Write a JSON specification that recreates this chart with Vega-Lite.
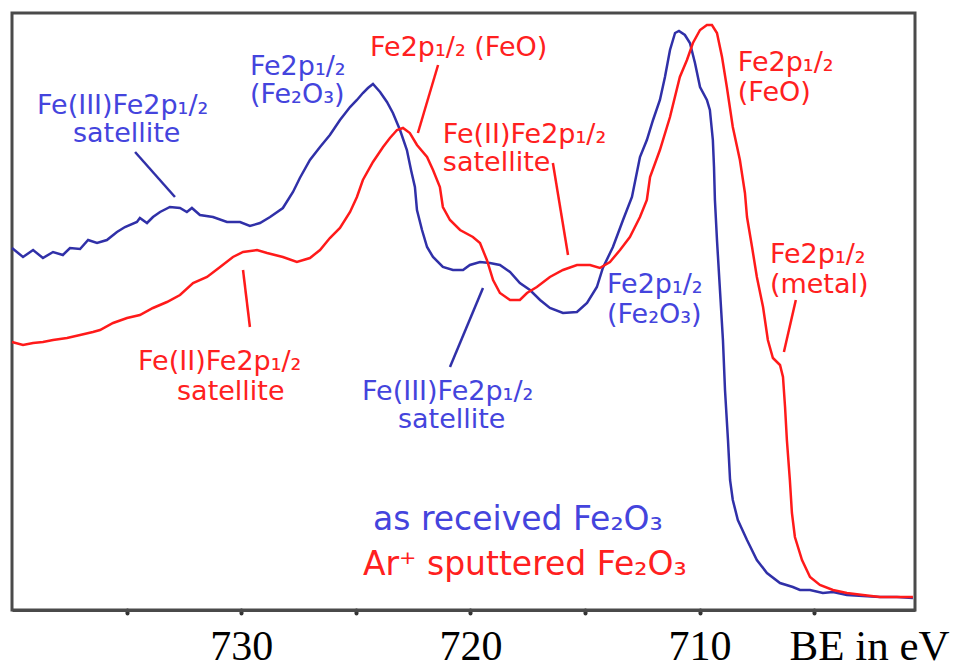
{
  "$schema": "https://vega.github.io/schema/vega-lite/v6.json",
  "width": 903,
  "height": 597,
  "autosize": {"type": "none"},
  "padding": {"left": 12, "top": 13, "right": 55, "bottom": 60},
  "background": "white",
  "config": {
    "view": {"stroke": "#4a4a4a", "strokeWidth": 3},
    "text": {"font": "DejaVu Sans"}
  },
  "resolve": {"scale": {"color": "independent"}},
  "datasets": {
    "spectra": [
      {"sample": "as received", "be": 740.00, "intensity": 362},
      {"sample": "as received", "be": 739.52, "intensity": 353},
      {"sample": "as received", "be": 739.08, "intensity": 360},
      {"sample": "as received", "be": 738.65, "intensity": 352},
      {"sample": "as received", "be": 738.21, "intensity": 358},
      {"sample": "as received", "be": 737.78, "intensity": 355},
      {"sample": "as received", "be": 737.47, "intensity": 362},
      {"sample": "as received", "be": 737.03, "intensity": 361},
      {"sample": "as received", "be": 736.68, "intensity": 370},
      {"sample": "as received", "be": 736.29, "intensity": 367},
      {"sample": "as received", "be": 735.86, "intensity": 370},
      {"sample": "as received", "be": 735.42, "intensity": 378},
      {"sample": "as received", "be": 735.07, "intensity": 383},
      {"sample": "as received", "be": 734.55, "intensity": 388},
      {"sample": "as received", "be": 734.42, "intensity": 392},
      {"sample": "as received", "be": 734.11, "intensity": 387},
      {"sample": "as received", "be": 733.85, "intensity": 393},
      {"sample": "as received", "be": 733.54, "intensity": 398},
      {"sample": "as received", "be": 733.11, "intensity": 403},
      {"sample": "as received", "be": 732.67, "intensity": 402},
      {"sample": "as received", "be": 732.37, "intensity": 398},
      {"sample": "as received", "be": 732.15, "intensity": 402},
      {"sample": "as received", "be": 731.80, "intensity": 395},
      {"sample": "as received", "be": 731.23, "intensity": 393},
      {"sample": "as received", "be": 730.62, "intensity": 388},
      {"sample": "as received", "be": 730.05, "intensity": 388},
      {"sample": "as received", "be": 729.62, "intensity": 384},
      {"sample": "as received", "be": 729.18, "intensity": 387},
      {"sample": "as received", "be": 728.74, "intensity": 393},
      {"sample": "as received", "be": 728.18, "intensity": 402},
      {"sample": "as received", "be": 727.74, "intensity": 418},
      {"sample": "as received", "be": 727.44, "intensity": 432},
      {"sample": "as received", "be": 727.00, "intensity": 450},
      {"sample": "as received", "be": 726.56, "intensity": 463},
      {"sample": "as received", "be": 726.13, "intensity": 475},
      {"sample": "as received", "be": 725.69, "intensity": 490},
      {"sample": "as received", "be": 725.25, "intensity": 503},
      {"sample": "as received", "be": 724.95, "intensity": 510},
      {"sample": "as received", "be": 724.69, "intensity": 517},
      {"sample": "as received", "be": 724.47, "intensity": 522},
      {"sample": "as received", "be": 724.25, "intensity": 526},
      {"sample": "as received", "be": 723.94, "intensity": 518},
      {"sample": "as received", "be": 723.64, "intensity": 508},
      {"sample": "as received", "be": 723.38, "intensity": 497},
      {"sample": "as received", "be": 723.07, "intensity": 480},
      {"sample": "as received", "be": 722.77, "intensity": 460},
      {"sample": "as received", "be": 722.59, "intensity": 440},
      {"sample": "as received", "be": 722.42, "intensity": 423},
      {"sample": "as received", "be": 722.33, "intensity": 400},
      {"sample": "as received", "be": 722.11, "intensity": 380},
      {"sample": "as received", "be": 721.89, "intensity": 363},
      {"sample": "as received", "be": 721.63, "intensity": 353},
      {"sample": "as received", "be": 721.20, "intensity": 343},
      {"sample": "as received", "be": 720.76, "intensity": 340},
      {"sample": "as received", "be": 720.32, "intensity": 340},
      {"sample": "as received", "be": 720.02, "intensity": 345},
      {"sample": "as received", "be": 719.58, "intensity": 348},
      {"sample": "as received", "be": 719.15, "intensity": 347},
      {"sample": "as received", "be": 718.71, "intensity": 345},
      {"sample": "as received", "be": 718.27, "intensity": 338},
      {"sample": "as received", "be": 717.84, "intensity": 327},
      {"sample": "as received", "be": 717.40, "intensity": 320},
      {"sample": "as received", "be": 716.96, "intensity": 310},
      {"sample": "as received", "be": 716.53, "intensity": 302},
      {"sample": "as received", "be": 715.96, "intensity": 297},
      {"sample": "as received", "be": 715.35, "intensity": 298},
      {"sample": "as received", "be": 714.91, "intensity": 307},
      {"sample": "as received", "be": 714.48, "intensity": 323},
      {"sample": "as received", "be": 714.22, "intensity": 342},
      {"sample": "as received", "be": 713.78, "intensity": 363},
      {"sample": "as received", "be": 713.34, "intensity": 390},
      {"sample": "as received", "be": 712.95, "intensity": 413},
      {"sample": "as received", "be": 712.60, "intensity": 453},
      {"sample": "as received", "be": 712.30, "intensity": 470},
      {"sample": "as received", "be": 712.03, "intensity": 490},
      {"sample": "as received", "be": 711.73, "intensity": 510},
      {"sample": "as received", "be": 711.51, "intensity": 533},
      {"sample": "as received", "be": 711.29, "intensity": 560},
      {"sample": "as received", "be": 711.07, "intensity": 577},
      {"sample": "as received", "be": 710.90, "intensity": 579},
      {"sample": "as received", "be": 710.64, "intensity": 575},
      {"sample": "as received", "be": 710.42, "intensity": 567},
      {"sample": "as received", "be": 710.20, "intensity": 547},
      {"sample": "as received", "be": 709.98, "intensity": 523},
      {"sample": "as received", "be": 709.68, "intensity": 510},
      {"sample": "as received", "be": 709.55, "intensity": 500},
      {"sample": "as received", "be": 709.42, "intensity": 470},
      {"sample": "as received", "be": 709.37, "intensity": 443},
      {"sample": "as received", "be": 709.33, "intensity": 410},
      {"sample": "as received", "be": 709.24, "intensity": 370},
      {"sample": "as received", "be": 709.11, "intensity": 320},
      {"sample": "as received", "be": 708.98, "intensity": 270},
      {"sample": "as received", "be": 708.89, "intensity": 220},
      {"sample": "as received", "be": 708.76, "intensity": 170},
      {"sample": "as received", "be": 708.67, "intensity": 130},
      {"sample": "as received", "be": 708.55, "intensity": 110},
      {"sample": "as received", "be": 708.33, "intensity": 90},
      {"sample": "as received", "be": 707.93, "intensity": 70},
      {"sample": "as received", "be": 707.50, "intensity": 50},
      {"sample": "as received", "be": 707.06, "intensity": 37},
      {"sample": "as received", "be": 706.49, "intensity": 27},
      {"sample": "as received", "be": 705.93, "intensity": 23},
      {"sample": "as received", "be": 705.62, "intensity": 20},
      {"sample": "as received", "be": 705.18, "intensity": 20},
      {"sample": "as received", "be": 704.62, "intensity": 17},
      {"sample": "as received", "be": 704.18, "intensity": 18},
      {"sample": "as received", "be": 703.57, "intensity": 15},
      {"sample": "as received", "be": 702.87, "intensity": 14},
      {"sample": "as received", "be": 702.13, "intensity": 13},
      {"sample": "as received", "be": 701.39, "intensity": 13},
      {"sample": "as received", "be": 700.69, "intensity": 12},
      {"sample": "sputtered", "be": 740.00, "intensity": 268},
      {"sample": "sputtered", "be": 739.52, "intensity": 265},
      {"sample": "sputtered", "be": 739.08, "intensity": 267},
      {"sample": "sputtered", "be": 738.65, "intensity": 268},
      {"sample": "sputtered", "be": 738.21, "intensity": 270},
      {"sample": "sputtered", "be": 737.60, "intensity": 272},
      {"sample": "sputtered", "be": 737.03, "intensity": 275},
      {"sample": "sputtered", "be": 736.47, "intensity": 278},
      {"sample": "sputtered", "be": 736.16, "intensity": 280},
      {"sample": "sputtered", "be": 735.59, "intensity": 287},
      {"sample": "sputtered", "be": 734.98, "intensity": 292},
      {"sample": "sputtered", "be": 734.42, "intensity": 295},
      {"sample": "sputtered", "be": 733.85, "intensity": 302},
      {"sample": "sputtered", "be": 733.24, "intensity": 308},
      {"sample": "sputtered", "be": 732.67, "intensity": 315},
      {"sample": "sputtered", "be": 732.10, "intensity": 327},
      {"sample": "sputtered", "be": 731.49, "intensity": 333},
      {"sample": "sputtered", "be": 730.92, "intensity": 343},
      {"sample": "sputtered", "be": 730.36, "intensity": 353},
      {"sample": "sputtered", "be": 729.92, "intensity": 358},
      {"sample": "sputtered", "be": 729.31, "intensity": 360},
      {"sample": "sputtered", "be": 728.87, "intensity": 357},
      {"sample": "sputtered", "be": 728.18, "intensity": 353},
      {"sample": "sputtered", "be": 727.57, "intensity": 348},
      {"sample": "sputtered", "be": 727.00, "intensity": 352},
      {"sample": "sputtered", "be": 726.56, "intensity": 360},
      {"sample": "sputtered", "be": 726.13, "intensity": 372},
      {"sample": "sputtered", "be": 725.69, "intensity": 382},
      {"sample": "sputtered", "be": 725.25, "intensity": 398},
      {"sample": "sputtered", "be": 724.95, "intensity": 413},
      {"sample": "sputtered", "be": 724.69, "intensity": 430},
      {"sample": "sputtered", "be": 724.25, "intensity": 448},
      {"sample": "sputtered", "be": 723.81, "intensity": 463},
      {"sample": "sputtered", "be": 723.51, "intensity": 472},
      {"sample": "sputtered", "be": 723.20, "intensity": 480},
      {"sample": "sputtered", "be": 722.94, "intensity": 482},
      {"sample": "sputtered", "be": 722.64, "intensity": 477},
      {"sample": "sputtered", "be": 722.33, "intensity": 465},
      {"sample": "sputtered", "be": 721.89, "intensity": 453},
      {"sample": "sputtered", "be": 721.63, "intensity": 440},
      {"sample": "sputtered", "be": 721.33, "intensity": 423},
      {"sample": "sputtered", "be": 721.20, "intensity": 403},
      {"sample": "sputtered", "be": 720.89, "intensity": 390},
      {"sample": "sputtered", "be": 720.45, "intensity": 380},
      {"sample": "sputtered", "be": 719.89, "intensity": 373},
      {"sample": "sputtered", "be": 719.58, "intensity": 367},
      {"sample": "sputtered", "be": 719.28, "intensity": 350},
      {"sample": "sputtered", "be": 719.01, "intensity": 330},
      {"sample": "sputtered", "be": 718.71, "intensity": 317},
      {"sample": "sputtered", "be": 718.27, "intensity": 310},
      {"sample": "sputtered", "be": 717.84, "intensity": 310},
      {"sample": "sputtered", "be": 717.53, "intensity": 317},
      {"sample": "sputtered", "be": 717.10, "intensity": 323},
      {"sample": "sputtered", "be": 716.53, "intensity": 333},
      {"sample": "sputtered", "be": 715.96, "intensity": 340},
      {"sample": "sputtered", "be": 715.35, "intensity": 345},
      {"sample": "sputtered", "be": 714.78, "intensity": 345},
      {"sample": "sputtered", "be": 714.35, "intensity": 342},
      {"sample": "sputtered", "be": 713.91, "intensity": 348},
      {"sample": "sputtered", "be": 713.47, "intensity": 360},
      {"sample": "sputtered", "be": 713.04, "intensity": 373},
      {"sample": "sputtered", "be": 712.60, "intensity": 393},
      {"sample": "sputtered", "be": 712.30, "intensity": 410},
      {"sample": "sputtered", "be": 712.16, "intensity": 433},
      {"sample": "sputtered", "be": 711.73, "intensity": 460},
      {"sample": "sputtered", "be": 711.29, "intensity": 493},
      {"sample": "sputtered", "be": 710.86, "intensity": 533},
      {"sample": "sputtered", "be": 710.55, "intensity": 550},
      {"sample": "sputtered", "be": 710.29, "intensity": 567},
      {"sample": "sputtered", "be": 709.98, "intensity": 580},
      {"sample": "sputtered", "be": 709.68, "intensity": 585},
      {"sample": "sputtered", "be": 709.46, "intensity": 585},
      {"sample": "sputtered", "be": 709.24, "intensity": 577},
      {"sample": "sputtered", "be": 709.02, "intensity": 553},
      {"sample": "sputtered", "be": 708.81, "intensity": 523},
      {"sample": "sputtered", "be": 708.55, "intensity": 483},
      {"sample": "sputtered", "be": 708.24, "intensity": 450},
      {"sample": "sputtered", "be": 708.02, "intensity": 417},
      {"sample": "sputtered", "be": 707.93, "intensity": 393},
      {"sample": "sputtered", "be": 707.71, "intensity": 363},
      {"sample": "sputtered", "be": 707.50, "intensity": 333},
      {"sample": "sputtered", "be": 707.23, "intensity": 303},
      {"sample": "sputtered", "be": 707.02, "intensity": 270},
      {"sample": "sputtered", "be": 706.80, "intensity": 252},
      {"sample": "sputtered", "be": 706.49, "intensity": 245},
      {"sample": "sputtered", "be": 706.36, "intensity": 233},
      {"sample": "sputtered", "be": 706.27, "intensity": 203},
      {"sample": "sputtered", "be": 706.19, "intensity": 170},
      {"sample": "sputtered", "be": 706.06, "intensity": 130},
      {"sample": "sputtered", "be": 705.97, "intensity": 97},
      {"sample": "sputtered", "be": 705.84, "intensity": 73},
      {"sample": "sputtered", "be": 705.53, "intensity": 50},
      {"sample": "sputtered", "be": 705.18, "intensity": 33},
      {"sample": "sputtered", "be": 704.75, "intensity": 25},
      {"sample": "sputtered", "be": 704.18, "intensity": 20},
      {"sample": "sputtered", "be": 703.57, "intensity": 17},
      {"sample": "sputtered", "be": 702.87, "intensity": 15},
      {"sample": "sputtered", "be": 702.13, "intensity": 13},
      {"sample": "sputtered", "be": 701.39, "intensity": 13},
      {"sample": "sputtered", "be": 700.69, "intensity": 13}
    ],
    "leaders": [
      {"sample": "as received", "be1": 734.63, "i1": 458, "be2": 732.89, "i2": 413},
      {"sample": "as received", "be1": 719.45, "i1": 322, "be2": 720.89, "i2": 243},
      {"sample": "sputtered", "be1": 721.41, "i1": 545, "be2": 722.29, "i2": 477},
      {"sample": "sputtered", "be1": 716.40, "i1": 447, "be2": 715.74, "i2": 355},
      {"sample": "sputtered", "be1": 729.92, "i1": 340, "be2": 729.62, "i2": 283},
      {"sample": "sputtered", "be1": 705.80, "i1": 310, "be2": 706.32, "i2": 258}
    ],
    "labels": [
      {"sample": "as received", "be": 738.91, "intensity": 504, "text": "Fe(III)Fe2p₁/₂"},
      {"sample": "as received", "be": 737.34, "intensity": 476, "text": "satellite"},
      {"sample": "as received", "be": 729.62, "intensity": 543, "text": "Fe2p₁/₂"},
      {"sample": "as received", "be": 729.62, "intensity": 515, "text": "(Fe₂O₃)"},
      {"sample": "as received", "be": 724.73, "intensity": 218, "text": "Fe(III)Fe2p₁/₂"},
      {"sample": "as received", "be": 723.16, "intensity": 190, "text": "satellite"},
      {"sample": "as received", "be": 714.04, "intensity": 325, "text": "Fe2p₁/₂"},
      {"sample": "as received", "be": 714.04, "intensity": 295, "text": "(Fe₂O₃)"},
      {"sample": "sputtered", "be": 724.38, "intensity": 562, "text": "Fe2p₁/₂ (FeO)"},
      {"sample": "sputtered", "be": 721.20, "intensity": 475, "text": "Fe(II)Fe2p₁/₂"},
      {"sample": "sputtered", "be": 721.20, "intensity": 447, "text": "satellite"},
      {"sample": "sputtered", "be": 708.33, "intensity": 547, "text": "Fe2p₁/₂"},
      {"sample": "sputtered", "be": 708.33, "intensity": 517, "text": "(FeO)"},
      {"sample": "sputtered", "be": 706.93, "intensity": 355, "text": "Fe2p₁/₂"},
      {"sample": "sputtered", "be": 706.93, "intensity": 325, "text": "(metal)"},
      {"sample": "sputtered", "be": 734.50, "intensity": 248, "text": "Fe(II)Fe2p₁/₂"},
      {"sample": "sputtered", "be": 732.80, "intensity": 218, "text": "satellite"}
    ],
    "key": [
      {"sample": "as received", "be": 724.25, "intensity": 90, "text": "as received Fe₂O₃"},
      {"sample": "sputtered", "be": 724.69, "intensity": 45, "text": "Ar⁺ sputtered Fe₂O₃"}
    ]
  },
  "layer": [
    {
      "data": {"name": "spectra"},
      "mark": {"type": "line", "strokeWidth": 2.5, "interpolate": "linear"},
      "encoding": {
        "x": {
          "field": "be", "type": "quantitative",
          "scale": {"domain": [700.6, 740], "reverse": true, "nice": false, "zero": false},
          "axis": {
            "values": [735, 730, 725, 720, 715, 710, 705],
            "labelExpr": "datum.value % 10 == 0 ? datum.label : ''",
            "grid": false,
            "domainColor": "#4a4a4a", "domainWidth": 3,
            "tickColor": "#333333", "tickSize": 3, "tickWidth": 4, "tickCap": "round",
            "labelFont": "Liberation Serif", "labelFontSize": 42, "labelColor": "black",
            "labelPadding": 13,
            "title": "BE in eV",
            "titleFont": "Liberation Serif", "titleFontSize": 43, "titleFontWeight": "normal",
            "titleColor": "black", "titleX": 857, "titleY": 49, "titleAlign": "center",
            "titleBaseline": "alphabetic"
          }
        },
        "y": {
          "field": "intensity", "type": "quantitative",
          "scale": {"domain": [0, 597], "nice": false, "zero": false},
          "axis": null
        },
        "color": {
          "field": "sample", "type": "nominal",
          "scale": {"domain": ["as received", "sputtered"], "range": ["#3030a8", "#ff1a1a"]},
          "legend": null
        },
        "order": {"field": "be", "sort": "descending"}
      }
    },
    {
      "data": {"name": "leaders"},
      "mark": {"type": "rule", "strokeWidth": 2.5},
      "encoding": {
        "x": {"field": "be1", "type": "quantitative"},
        "x2": {"field": "be2"},
        "y": {"field": "i1", "type": "quantitative"},
        "y2": {"field": "i2"},
        "color": {
          "field": "sample", "type": "nominal",
          "scale": {"domain": ["as received", "sputtered"], "range": ["#3030a8", "#ff1a1a"]},
          "legend": null
        }
      }
    },
    {
      "data": {"name": "labels"},
      "mark": {"type": "text", "align": "left", "baseline": "middle", "fontSize": 27},
      "encoding": {
        "x": {"field": "be", "type": "quantitative"},
        "y": {"field": "intensity", "type": "quantitative"},
        "text": {"field": "text"},
        "color": {
          "field": "sample", "type": "nominal",
          "scale": {"domain": ["as received", "sputtered"], "range": ["#4444dd", "#ff2020"]},
          "legend": null
        }
      }
    },
    {
      "data": {"name": "key"},
      "mark": {"type": "text", "align": "left", "baseline": "middle", "fontSize": 33},
      "encoding": {
        "x": {"field": "be", "type": "quantitative"},
        "y": {"field": "intensity", "type": "quantitative"},
        "text": {"field": "text"},
        "color": {
          "field": "sample", "type": "nominal",
          "scale": {"domain": ["as received", "sputtered"], "range": ["#4444dd", "#ff2020"]},
          "legend": null
        }
      }
    }
  ]
}
